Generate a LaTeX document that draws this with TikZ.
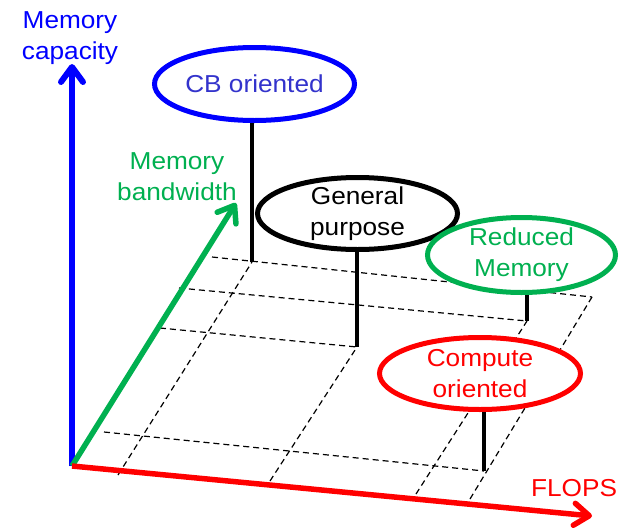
\documentclass[tikz,border=0pt]{standalone}
\usepackage{fontspec}
\setmainfont{Liberation Sans}[FakeStretch=1.07]
\usetikzlibrary{arrows.meta,shapes.geometric}
\definecolor{axblue}{RGB}{0,0,255}
\definecolor{axgreen}{RGB}{0,176,80}
\definecolor{axred}{RGB}{255,0,0}
\definecolor{cbtext}{RGB}{51,51,204}
\pgfdeclarelayer{bg}
\pgfsetlayers{bg,main}
\begin{document}
\begin{tikzpicture}[x=1pt,y=-1pt,
  lbl/.style={font=\fontsize{24.5}{31}\selectfont, align=center, inner sep=0pt},
  axisline/.style={line width=5.5pt, -{Straight Barb[length=15pt,width=22pt,round]}},
  gridline/.style={line width=1.2pt, dash pattern=on 6pt off 4pt},
  pole/.style={line width=4pt},
  bubble/.style={ellipse, draw, fill=white, line width=5pt, inner sep=-6pt,
    font=\fontsize{24.5}{31}\selectfont, align=center}]
\useasboundingbox (0,0) rectangle (622,528);

% axes
\coordinate (O) at (72,466);
\coordinate (capTip) at (72,64);
\coordinate (bwTip) at (236,203);
\coordinate (flTip) at (592,516);

% bubbles
\node[bubble, draw=axblue, text=cbtext, minimum width=200pt, minimum height=73pt] (CB) at (254.5,84) {CB oriented};
\node[bubble, draw=black, text=black, minimum width=200pt, minimum height=72pt] (GP) at (357.5,213.5) {General\\purpose};
\node[bubble, draw=axgreen, text=axgreen, minimum width=188pt, minimum height=75pt] (RM) at (521.5,255) {Reduced\\Memory};
\node[bubble, draw=axred, text=axred, minimum width=201pt, minimum height=72pt] (CO) at (480,373.5) {Compute\\oriented};

% grid points
\coordinate (h1a) at (212,257); \coordinate (h1b) at (592,297);
\coordinate (h2a) at (179,288); \coordinate (h2b) at (527,321);
\coordinate (h3a) at (160,328); \coordinate (h3b) at (357,347);
\coordinate (h4a) at (104,432); \coordinate (h4b) at (484,471);
\coordinate (s1a) at (118,475); \coordinate (s1b) at (252,262);
\coordinate (s2a) at (270,481);
\coordinate (s3a) at (416,494);
\coordinate (s4a) at (470,499);

\begin{pgfonlayer}{bg}
\draw[gridline] (h1a) -- (h1b);
\draw[gridline] (h2a) -- (h2b);
\draw[gridline] (h3a) -- (h3b);
\draw[gridline] (h4a) -- (h4b);
\draw[gridline] (s1a) -- (s1b);
\draw[gridline] (s2a) -- (h3b);
\draw[gridline] (s3a) -- (h2b);
\draw[gridline] (s4a) -- (h1b);
% poles
\draw[pole] (s1b) -- (s1b |- CB.south);
\draw[pole] (h3b) -- (h3b |- GP.south);
\draw[pole] (h2b) -- (h2b |- RM.south);
\draw[pole] (h4b) -- (h4b |- CO.south);
\end{pgfonlayer}

\draw[axisline, axblue, line width=6pt] (O) -- (capTip);
\draw[axisline, axgreen] (O) -- (bwTip);
\draw[axisline, axred] (O) -- (flTip);

% axis labels
\node[lbl, text=axblue] (capL) at (70,38) {Memory\\capacity};
\node[lbl, text=axgreen] (bwL) at (177,177) {Memory\\bandwidth};
\node[lbl, text=axred] (flL) at (574,488) {FLOPS};
\end{tikzpicture}
\end{document}
